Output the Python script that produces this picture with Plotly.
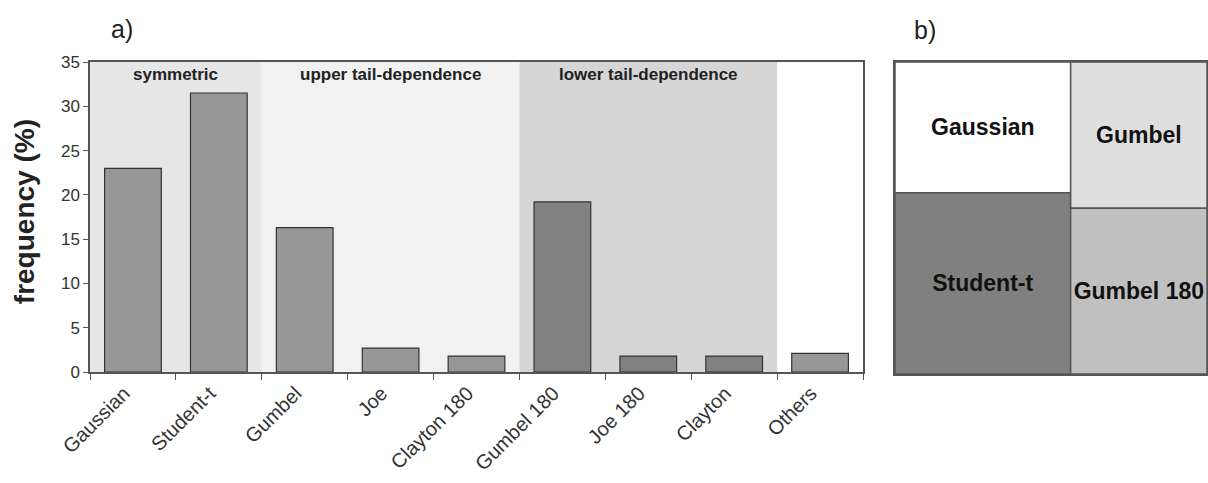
import plotly.graph_objects as go

# ---- panel a) data: frequency of each selected copula family (%) ----
copulas = ["Gaussian", "Student-t", "Gumbel", "Joe", "Clayton 180",
           "Gumbel 180", "Joe 180", "Clayton", "Others"]
frequency = [23.0, 31.5, 16.3, 2.7, 1.8, 19.2, 1.8, 1.8, 2.1]

# dependence groups shown as shaded bands behind the bars
groups = ["symmetric", "upper tail-dependence", "lower tail-dependence"]
group_members = [
    ["Gaussian", "Student-t"],
    ["Gumbel", "Joe", "Clayton 180"],
    ["Gumbel 180", "Joe 180", "Clayton"],
]
y_ticks = [0, 5, 10, 15, 20, 25, 30, 35]

# ---- panel b) data: share of the four dominant families ----
mosaic_columns = [["Gaussian", "Student-t"], ["Gumbel", "Gumbel 180"]]
mosaic_share = {"Gaussian": 23.6, "Student-t": 32.7,
                "Gumbel": 20.5, "Gumbel 180": 23.2}

# ---- styles ----
FONT = "Liberation Sans, Arial, Helvetica, sans-serif"
AXIS = "#555555"
band_fill = {"symmetric": "#e6e6e6", "upper tail-dependence": "#f1f1f1",
             "lower tail-dependence": "#d6d6d6"}
bar_light, bar_dark = "#979797", "#818181"
cell_fill = {"Gaussian": "#ffffff", "Student-t": "#808080",
             "Gumbel": "#dfdfdf", "Gumbel 180": "#c0c0c0"}

W, H = 1208, 483
def px_x(p):
    return p / W
def px_y(p):
    return 1 - p / H

lower_members = set(group_members[2])
bar_colors = [bar_dark if c in lower_members else bar_light for c in copulas]

fig = go.Figure()

fig.add_trace(go.Bar(
    x=copulas, y=frequency, width=0.66,
    marker=dict(color=bar_colors, line=dict(color="#333333", width=1.2)),
    xaxis="x", yaxis="y", showlegend=False, hoverinfo="x+y",
))

# mosaic: columns sized by their total, cells stacked within each column
total = sum(mosaic_share.values())
mx, mw, mbase, mh, mtext, mcol = [], [], [], [], [], []
left = 0.0
for col in mosaic_columns:
    col_sum = sum(mosaic_share[c] for c in col)
    col_w = col_sum / total
    top = 1.0
    for c in col:
        h = mosaic_share[c] / col_sum
        mx.append(left + col_w / 2)
        mw.append(col_w)
        mbase.append(top - h)
        mh.append(h)
        mtext.append(c)
        mcol.append(cell_fill[c])
        top -= h
    left += col_w

fig.add_trace(go.Bar(
    x=mx, y=mh, base=mbase, width=mw, text=mtext,
    textposition="inside", insidetextanchor="middle", textangle=0,
    constraintext="none",
    textfont=dict(family=FONT, size=23, color="#111111", weight="bold"),
    marker=dict(color=mcol, line=dict(color=AXIS, width=1.5)),
    xaxis="x2", yaxis="y2", showlegend=False, hoverinfo="text",
))

# shaded group bands and their labels
shapes, annotations = [], []
for g, members in zip(groups, group_members):
    idx = [copulas.index(m) for m in members]
    x0, x1 = min(idx) - 0.5, max(idx) + 0.5
    shapes.append(dict(type="rect", xref="x", yref="y domain", x0=x0, x1=x1,
                       y0=0, y1=1, fillcolor=band_fill[g], line_width=0,
                       layer="below"))
    annotations.append(dict(x=(x0 + x1) / 2, xref="x", y=px_y(75), yref="paper",
                            xanchor="center", yanchor="middle",
                            text=g, showarrow=False,
                            font=dict(family=FONT, size=17, color="#222222",
                                      weight="bold")))

annotations += [
    dict(x=px_x(24), y=(px_y(62) + px_y(372)) / 2 + 0.01, xref="paper",
         yref="paper", xanchor="center", yanchor="middle",
         text="frequency (%)", textangle=-90, showarrow=False,
         font=dict(family=FONT, size=28, color="#222222", weight="bold")),
    dict(x=px_x(122), y=px_y(29), xref="paper", yref="paper", text="a)",
         xanchor="center", yanchor="middle",
         showarrow=False, font=dict(family=FONT, size=25, color="#222222")),
    dict(x=px_x(925), y=px_y(30), xref="paper", yref="paper", text="b)",
         xanchor="center", yanchor="middle",
         showarrow=False, font=dict(family=FONT, size=25, color="#222222")),
]

fig.update_layout(
    width=W, height=H,
    margin=dict(l=0, r=0, t=0, b=0, autoexpand=False),
    paper_bgcolor="white", plot_bgcolor="white",
    shapes=shapes, annotations=annotations,
    font=dict(family=FONT, color="#333333"),
    xaxis=dict(domain=[px_x(90), px_x(863)], type="category",
               range=[-0.5, len(copulas) - 0.5], tickson="boundaries",
               ticks="outside", ticklen=6, tickcolor=AXIS, tickwidth=1.3,
               tickangle=-45, ticklabelshift=-9,
               tickfont=dict(size=20, color="#333333"),
               showline=True, linecolor=AXIS, linewidth=1.5, mirror=True,
               showgrid=False, zeroline=False, anchor="y", automargin=False),
    yaxis=dict(domain=[px_y(372), px_y(62)], range=[0, 35],
               tickvals=y_ticks, ticks="outside", ticklen=5, tickcolor=AXIS,
               tickwidth=1.3, tickfont=dict(size=17, color="#333333"),
               showline=True, linecolor=AXIS, linewidth=1.5, mirror=True,
               showgrid=False, zeroline=False, anchor="x", automargin=False),
    xaxis2=dict(domain=[px_x(895), px_x(1207)], range=[0, 1],
                showticklabels=False, ticks="", showgrid=False, zeroline=False,
                showline=True, linecolor=AXIS, linewidth=1.5, mirror=True,
                anchor="y2", automargin=False),
    yaxis2=dict(domain=[px_y(374), px_y(62)], range=[0, 1],
                showticklabels=False, ticks="", showgrid=False, zeroline=False,
                showline=True, linecolor=AXIS, linewidth=1.5, mirror=True,
                anchor="x2", automargin=False),
)

fig.write_html("out.html")
